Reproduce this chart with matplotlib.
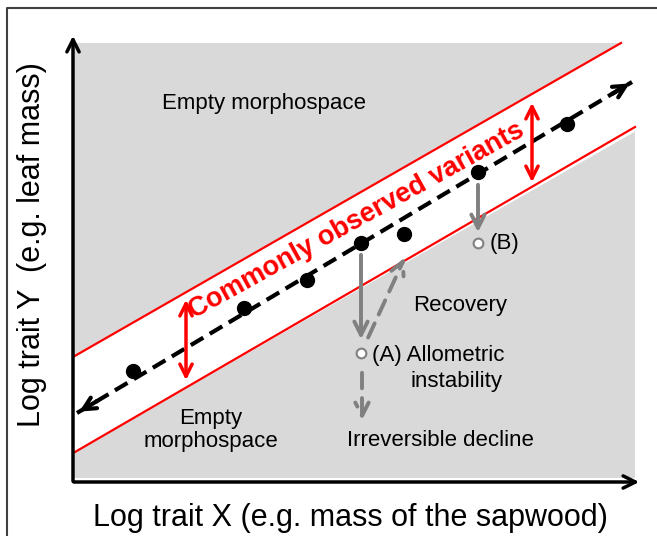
import matplotlib.pyplot as plt
from matplotlib.patches import Rectangle, Polygon

plt.rcParams['font.family'] = ['Liberation Sans', 'DejaVu Sans']

# chart units: origin at the axes corner, y up
band_upper_x = [0, 548]
band_upper_y = [125, 439]
band_lower_x = [2, 562]
band_lower_y = [30, 355]

trend_x = [4, 559]
trend_y = [69, 400]

dots_x = [60, 171, 234, 288, 331, 405, 494]
dots_y = [111, 174, 202, 239, 248, 310, 358]

open_x = [288, 405]
open_y = [129, 239]

# gray arrows: (x0, y0, x1, y1, dashed)
gray_arrows = [
    (288, 230, 288, 140, False),
    (294, 142, 333, 227, True),
    (289, 112, 289, 59, True),
    (405, 300, 405, 247, False),
]

# red double arrows (x, y_low, y_high)
red_arrows = [(113, 99, 185), (459, 297, 382)]

fig = plt.figure(figsize=(6.57, 5.36), dpi=100)
ax = fig.add_axes([0, 0, 1, 1])
ax.set_xlim(-73, 584)
ax.set_ylim(-54, 482)
ax.axis('off')

# outer frame
ax.plot([-66, -66, 584], [-54, 474, 474], color='#404040', lw=1.5, zorder=0)

ax.add_patch(Rectangle((0, 4), 562, 435, facecolor='#d9d9d9', edgecolor='none', zorder=1))
band = [(0, band_upper_y[0]), (band_upper_x[1], band_upper_y[1]), (570, 439),
        (570, band_lower_y[1]), (band_lower_x[0], band_lower_y[0]), (0, band_lower_y[0])]
ax.add_patch(Polygon(band, closed=True, facecolor='white', edgecolor='none', zorder=2))
ax.plot(band_upper_x, band_upper_y, color='red', lw=1.6, zorder=3)
ax.plot(band_lower_x, band_lower_y, color='red', lw=1.6, zorder=3)

# axes
ax.annotate('', xy=(0, 449), xytext=(0, -2),
            arrowprops=dict(arrowstyle='->', color='black', lw=2.5, mutation_scale=22), zorder=5)
ax.annotate('', xy=(569, 0), xytext=(-2, 0),
            arrowprops=dict(arrowstyle='->', color='black', lw=2.5, mutation_scale=22), zorder=5)

# dashed trend with arrow heads
ax.plot(trend_x, trend_y, color='black', lw=3, ls=(0, (3.5, 1.8)), zorder=4)
for (x0, y0), (x1, y1) in [((trend_x[0], trend_y[0]), (trend_x[1], trend_y[1])),
                           ((trend_x[1], trend_y[1]), (trend_x[0], trend_y[0]))]:
    dx, dy = x1 - x0, y1 - y0
    ax.annotate('', xy=(x1, y1), xytext=(x1 - dx * 0.04, y1 - dy * 0.04),
                arrowprops=dict(arrowstyle='->', color='black', lw=3, mutation_scale=22), zorder=4)

ax.plot(dots_x, dots_y, 'o', color='black', ms=10, zorder=6)

for x0, y0, x1, y1, dashed in gray_arrows:
    ax.annotate('', xy=(x1, y1), xytext=(x0, y0),
                arrowprops=dict(arrowstyle='->', color='#808080', lw=2.8, mutation_scale=24,
                                linestyle=(0, (4, 2.5)) if dashed else '-'), zorder=5)

ax.plot(open_x, open_y, 'o', mfc='white', mec='#808080', mew=1.5, ms=7, zorder=7)

for x, ylo, yhi in red_arrows:
    ax.annotate('', xy=(x, yhi), xytext=(x, ylo),
                arrowprops=dict(arrowstyle='<->', color='red', lw=2.5, mutation_scale=22), zorder=6)

fs = 16
ax.text(191, 378, 'Empty morphospace', fontsize=fs, ha='center', va='center', zorder=8)
ax.text(284, 261, 'Commonly observed variants', fontsize=19.5, fontweight='bold', color='red',
        rotation=29, rotation_mode='anchor', ha='center', va='center', zorder=8)
ax.text(417, 239, '(B)', fontsize=fs, ha='left', va='center', zorder=8)
ax.text(387, 177, 'Recovery', fontsize=fs, ha='center', va='center', zorder=8)
ax.text(299, 127, '(A) Allometric', fontsize=fs, ha='left', va='center', zorder=8)
ax.text(384, 100, 'instability', fontsize=fs, ha='center', va='center', zorder=8)
ax.text(138, 52, 'Empty\nmorphospace', fontsize=fs, ha='center', va='center', linespacing=1.15, zorder=8)
ax.text(367, 42, 'Irreversible decline', fontsize=fs, ha='center', va='center', zorder=8)
ax.text(-41, 237, 'Log trait Y  (e.g. leaf mass)', fontsize=22, rotation=90, ha='center', va='center')
ax.text(277, -36, 'Log trait X (e.g. mass of the sapwood)', fontsize=22, ha='center', va='center')

fig.savefig('out.png', dpi=100)
